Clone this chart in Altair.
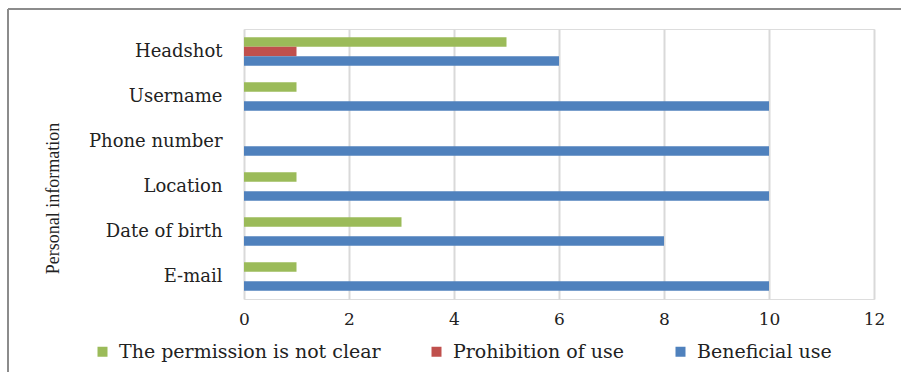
import altair as alt
import pandas as pd

categories = ["Headshot", "Username", "Phone number", "Location", "Date of birth", "E-mail"]
series = ["The permission is not clear", "Prohibition of use", "Beneficial use"]
not_clear = [5, 1, 0, 1, 3, 1]
prohibition = [1, 0, 0, 0, 0, 0]
beneficial = [6, 10, 10, 10, 8, 10]
x_ticks = [0, 2, 4, 6, 8, 10, 12]
colors = ["#9BBB59", "#C0504D", "#4F81BD"]

rows = []
for i, c in enumerate(categories):
    for s, vals in zip(series, [not_clear, prohibition, beneficial]):
        rows.append({"info": c, "series": s, "value": vals[i]})
df = pd.DataFrame(rows)

W, H = 630, 270
LABEL_FONT = "DejaVu Serif"

bars = alt.Chart(df).mark_bar(size=9.5).encode(
    x=alt.X("value:Q",
            scale=alt.Scale(domain=[0, 12], nice=False),
            axis=alt.Axis(values=x_ticks, title=None, grid=True, gridColor="#d9d9d9",
                          gridWidth=2, domain=False, ticks=False, labelFont=LABEL_FONT,
                          labelFontSize=17, labelColor="#222", labelPadding=12,
                          labelFlush=False)),
    y=alt.Y("info:N", sort=categories,
            scale=alt.Scale(paddingInner=0.37, paddingOuter=0.185),
            axis=alt.Axis(title="Personal information", titleFont="Liberation Serif",
                          titleFontSize=18, titleFontWeight="normal", titleColor="#222",
                          titleAngle=270, titleX=-191, titleY=169, titleAlign="center",
                          titleBaseline="middle",
                          domain=False, ticks=False, labelFont=LABEL_FONT,
                          labelFontSize=18, labelColor="#222", labelPadding=22)),
    yOffset=alt.YOffset("series:N", sort=series),
    color=alt.Color("series:N",
                    scale=alt.Scale(domain=series, range=colors),
                    legend=alt.Legend(title=None, orient="none", direction="horizontal",
                                      legendX=-151, legendY=313, symbolType="square",
                                      symbolSize=100, symbolStrokeWidth=0,
                                      labelFont=LABEL_FONT, labelFontSize=19,
                                      labelColor="#222", labelOffset=7, labelLimit=0,
                                      columnPadding=46)),
)

frame_left = alt.Chart(df).mark_rule(color="#8c8c8c", strokeWidth=1.5).encode(
    x=alt.value(-236), y=alt.value(-20), y2=alt.value(H + 120))
frame_top = alt.Chart(df).mark_rule(color="#8c8c8c", strokeWidth=1.5).encode(
    x=alt.value(-236), x2=alt.value(W + 100), y=alt.value(-20))

chart = alt.layer(bars, frame_left, frame_top).properties(
    width=W, height=H,
    autosize=alt.AutoSizeParams(type="none"),
    padding={"left": 244, "top": 29, "right": 27, "bottom": 73},
).configure_view(stroke=None).configure(background="white")

chart.save("out.html", embed_options={"renderer": "svg", "actions": False})
